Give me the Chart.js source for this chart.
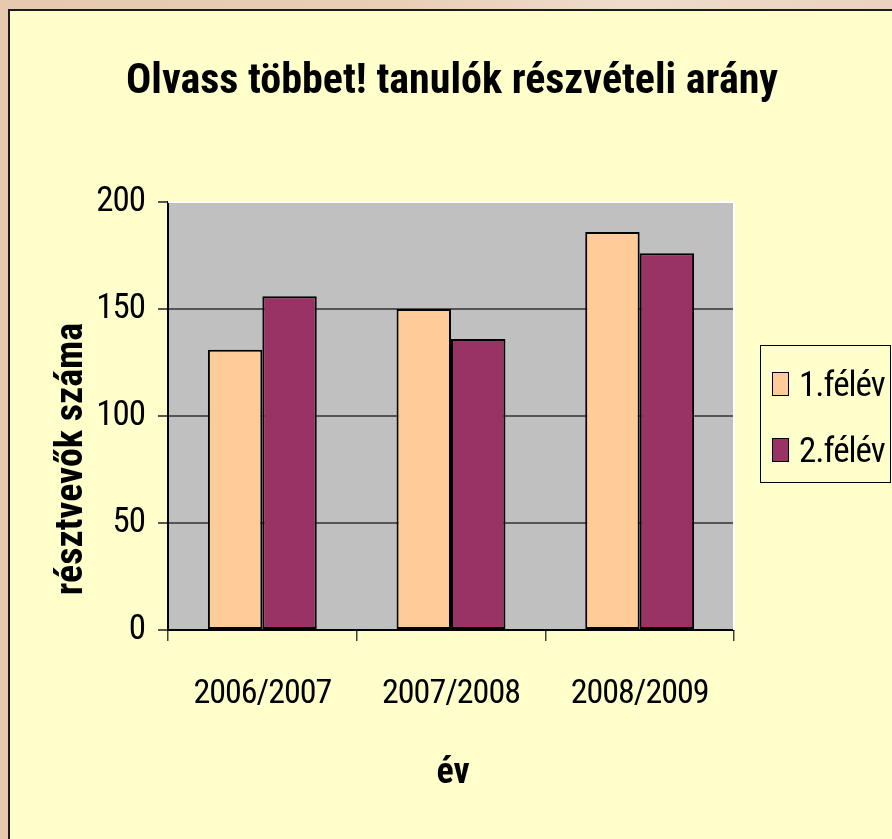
<!DOCTYPE html>
<html>
<head>
<meta charset="utf-8">
<script src="https://cdn.jsdelivr.net/npm/chart.js@4/dist/chart.umd.min.js"></script>
<style>
  html, body { margin: 0; padding: 0; }
  body { width: 892px; height: 839px; position: relative; overflow: hidden;
         background: linear-gradient(90deg, #E6C9AE 0%, #E9CFB6 45%, #EFDCCB 70%, #EAD3BE 100%); }
  #panel { position: absolute; left: 8px; top: 9px; right: 0; bottom: 0;
           background: #FFFFCC; border-left: 2px solid #1c1c1c; border-top: 2px solid #1c1c1c; }
  #c { position: absolute; left: 0; top: 0; }
</style>
</head>
<body>
<div id="panel"></div>
<canvas id="c" width="892" height="839"></canvas>
<script>
const chartTitle = 'Olvass többet! tanulók részvételi arány';
const xAxisTitle = 'év';
const yAxisTitle = 'résztvevők száma';
const categories = ['2006/2007', '2007/2008', '2008/2009'];
const seriesNames = ['1.félév', '2.félév'];
const series1 = [131, 150, 186];
const series2 = [156, 136, 176];
const seriesColors = ['#FFCC99', '#993366'];
const yMin = 0, yMax = 200, yStep = 50;

const FONT = '"Roboto Condensed", "Arial Narrow", sans-serif';

const decor = {
  id: 'decor',
  beforeLayout(chart) {
    chart.ctx.letterSpacing = '-1px';
  },
  beforeDraw(chart) {
    const { ctx, chartArea: a } = chart;
    ctx.letterSpacing = '-1px';
    ctx.save();
    ctx.fillStyle = '#C0C0C0';
    ctx.fillRect(a.left, a.top, a.right - a.left, a.bottom - a.top);
    ctx.restore();
  },
  beforeDatasetsDraw(chart) {
    const { ctx, chartArea: a } = chart;
    ctx.save();
    ctx.strokeStyle = '#FFFFFF';
    ctx.lineWidth = 2;
    ctx.beginPath();
    ctx.moveTo(a.left, a.top);
    ctx.lineTo(a.right, a.top);
    ctx.lineTo(a.right, a.bottom);
    ctx.stroke();
    ctx.restore();
  },
  afterDraw(chart) {
    const { ctx } = chart;
    ctx.save();
    ctx.fillStyle = '#000';
    ctx.textBaseline = 'alphabetic';
    ctx.letterSpacing = '0px';
    // title
    ctx.textAlign = 'center';
    ctx.font = 'bold 42px ' + FONT;
    ctx.fillText(chartTitle, 452, 93);
    // x axis title
    ctx.font = 'bold 36px ' + FONT;
    ctx.fillText(xAxisTitle, 453, 783);
    // y axis title
    ctx.save();
    ctx.translate(82, 459);
    ctx.rotate(-Math.PI / 2);
    ctx.font = 'bold 38px ' + FONT;
    ctx.fillText(yAxisTitle, 0, 0);
    ctx.restore();
    // legend
    ctx.letterSpacing = '-1px';
    ctx.strokeStyle = '#000';
    ctx.lineWidth = 1;
    ctx.strokeRect(760.5, 345.5, 130, 137);
    ctx.textAlign = 'left';
    ctx.font = '35px ' + FONT;
    chart.data.datasets.forEach((ds, i) => {
      const y = 372 + i * 66;
      ctx.fillStyle = ds.backgroundColor;
      ctx.fillRect(772, y, 17, 24);
      ctx.strokeRect(772.5, y + 0.5, 16, 23);
      ctx.fillStyle = '#000';
      ctx.fillText(ds.label, 799, y + 24);
    });
    ctx.restore();
  }
};

new Chart(document.getElementById('c'), {
  type: 'bar',
  data: {
    labels: categories,
    datasets: [
      { label: seriesNames[0], data: series1, backgroundColor: seriesColors[0],
        borderColor: '#000', borderWidth: 2, borderSkipped: false,
        categoryPercentage: 0.577, barPercentage: 1.0 },
      { label: seriesNames[1], data: series2, backgroundColor: seriesColors[1],
        borderColor: '#000', borderWidth: 2, borderSkipped: false,
        categoryPercentage: 0.577, barPercentage: 1.0 }
    ]
  },
  options: {
    responsive: false,
    animation: false,
    devicePixelRatio: 1,
    layout: { padding: { left: 0, right: 158, top: 202, bottom: 0 } },
    plugins: { legend: { display: false }, title: { display: false }, tooltip: { enabled: false } },
    scales: {
      x: {
        grid: { display: true, drawOnChartArea: false, drawTicks: true, tickLength: 11,
                color: '#404040', lineWidth: 1.5, offset: true },
        border: { display: true, color: '#000', width: 2 },
        ticks: { font: { family: FONT, size: 34 }, color: '#000', padding: 33,
                 maxRotation: 0, autoSkip: false },
        afterFit: s => { s.height = 209; }
      },
      y: {
        min: yMin, max: yMax,
        grid: { color: c => (c.tick && c.tick.value === yMax) ? '#FFFFFF' : '#555555',
                tickColor: '#555555', lineWidth: 2, tickLength: 10 },
        border: { display: true, color: '#000', width: 2 },
        ticks: { stepSize: yStep, font: { family: FONT, size: 35 }, color: '#000', padding: 13 },
        afterFit: s => { s.width = 168; }
      }
    }
  },
  plugins: [decor]
});
</script>
</body>
</html>
